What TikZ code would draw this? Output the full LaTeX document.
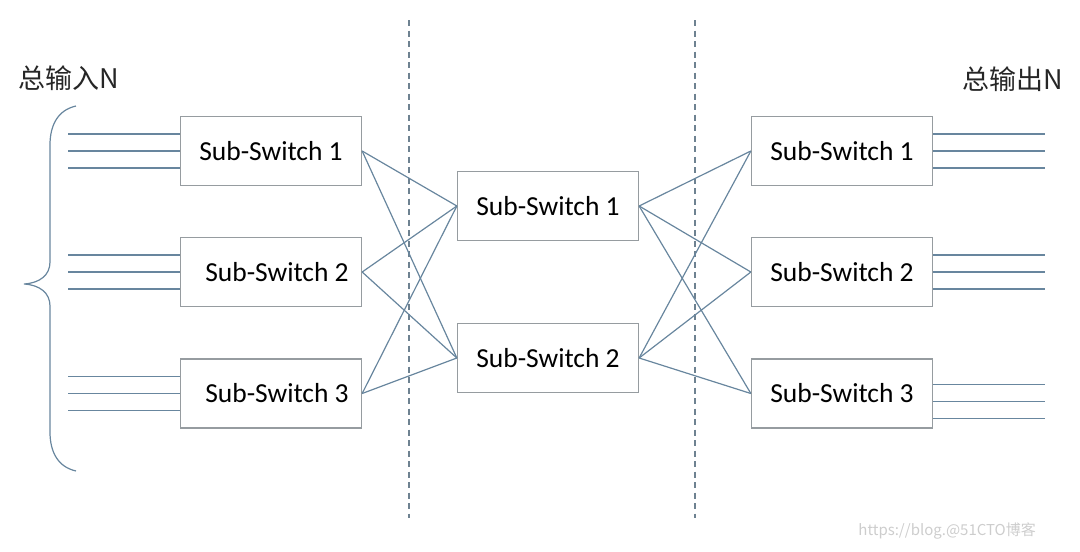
\documentclass[tikz,border=0pt]{standalone}
\usepackage{fontspec}
\setmainfont{Carlito}
\newfontfamily\cjk{Noto Sans CJK SC}
\definecolor{linec}{RGB}{104,134,158}
\definecolor{boxc}{RGB}{150,156,160}
\definecolor{dashc}{RGB}{110,130,145}
\definecolor{wmark}{RGB}{205,205,205}
\begin{document}
\begin{tikzpicture}[x=1pt,y=-1pt,
  swbox/.style={draw=boxc, line width=1.3pt, fill=white, minimum width=181pt, minimum height=69pt, inner sep=0pt, font=\fontsize{27.5}{32}\selectfont},
  conn/.style={draw=linec, line width=1.2pt},
  sep/.style={draw=dashc, line width=1.1pt, dash pattern=on 6pt off 4.5pt},
  lbl/.style={font=\cjk\fontsize{27}{31}\selectfont, text=black!85, inner sep=0pt}]
\useasboundingbox (0,0) rectangle (1080,552);

% separators
\coordinate (d1t) at (409,20); \coordinate (d1b) at (409,518);
\coordinate (d2t) at (695,20); \coordinate (d2b) at (695,518);
\draw[sep] (d1t) -- (d1b);
\draw[sep] (d2t) -- (d2b);

% boxes
\node[swbox] (L1) at (271,151) {\raisebox{-4pt}{Sub-Switch 1}};
\node[swbox] (L2) at (271,272) {\hspace{12pt}Sub-Switch 2};
\node[swbox] (L3) at (271,393.5) {\hspace{12pt}\raisebox{2pt}{Sub-Switch 3}};
\node[swbox] (M1) at (548,206) {\raisebox{-2pt}{Sub-Switch 1}};
\node[swbox] (M2) at (548,358) {Sub-Switch 2};
\node[swbox] (R1) at (842,151) {\raisebox{-4pt}{Sub-Switch 1}};
\node[swbox] (R2) at (842,272) {Sub-Switch 2};
\node[swbox] (R3) at (842,393.5) {Sub-Switch 3};

% crossbar connections
\foreach \a in {L1,L2,L3}{
  \foreach \b in {M1,M2}{
    \draw[conn] (\a.east) -- (\b.west);
  }
}
\foreach \a in {M1,M2}{
  \foreach \b in {R1,R2,R3}{
    \draw[conn] (\a.east) -- (\b.west);
  }
}

% input lines
\foreach \n in {L1,L2,L3}{
  \foreach \dy in {-17,0,17}{
    \draw[conn] ([yshift=-\dy pt]\n.west) -- ++(-112,0);
  }
}
% output lines
\foreach \n/\o in {R1/0,R2/0,R3/8}{
  \foreach \dy in {-17,0,17}{
    \draw[conn] ([yshift=-\dy pt-\o pt]\n.east) -- ++(112,0);
  }
}

% brace
\draw[conn] (76,106) .. controls (58,110) and (50,125) .. (50,145) -- (50,262)
  .. controls (50,275) and (40,283) .. (24,284)
  .. controls (40,285) and (50,293) .. (50,306) -- (50,432)
  .. controls (50,452) and (58,467) .. (76,471);

% labels
\node[lbl, anchor=west] (tin) at (18,78) {总输入N};
\node[lbl, anchor=east] (tout) at (1063,79) {总输出N};

% watermark
\node[font=\cjk\fontsize{15}{18}\selectfont, text=wmark, anchor=east, inner sep=0pt] (wm) at (1036,531) {https://blog.@51CTO博客};
\end{tikzpicture}
\end{document}
